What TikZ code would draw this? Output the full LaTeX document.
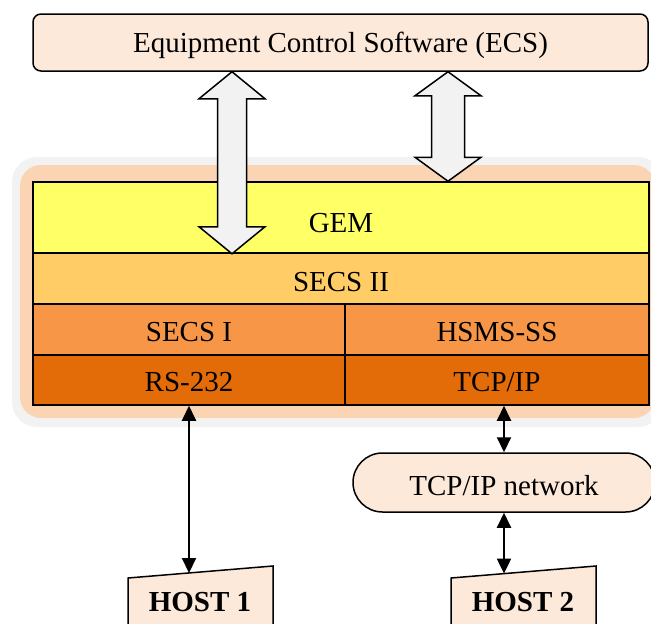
\documentclass[tikz,border=0pt]{standalone}
\usepackage{fontspec}
\setmainfont{Liberation Serif}
\usetikzlibrary{arrows.meta, calc, shapes.misc}
\definecolor{paperfill}{HTML}{FDE9D9}
\definecolor{stackfill}{HTML}{FBD4B4}
\definecolor{shadowgray}{HTML}{F2F2F2}
\definecolor{gemfill}{HTML}{FFFF66}
\definecolor{secsfill}{HTML}{FFCC66}
\definecolor{midfill}{HTML}{F79646}
\definecolor{lowfill}{HTML}{E36C09}
\newcommand{\linkArrow}{{Triangle[length=15pt, width=14pt]}}
\newcommand{\blockArrow}[5]{% top, bottom, head length, head half width, shaft half width
	\filldraw[fill=shadowgray, draw=black, line width=1.5pt] let \p1=(#1), \p2=(#2) in
		(\p1) -- (\x1+#4pt,\y1-#3pt) -- (\x1+#5pt,\y1-#3pt) -- (\x1+#5pt,\y2+#3pt) -- (\x1+#4pt,\y2+#3pt)
		-- (\p2) -- (\x1-#4pt,\y2+#3pt) -- (\x1-#5pt,\y2+#3pt) -- (\x1-#5pt,\y1-#3pt) -- (\x1-#4pt,\y1-#3pt) -- cycle;}

\begin{document}
\begin{tikzpicture}[x=1pt, y=-1pt, font=\fontsize{29}{34}\selectfont,
	layer/.style={draw=black, line width=1.5pt, inner sep=0pt, minimum height=51pt, text depth=0pt},
	paper/.style={fill=paperfill, draw=black, line width=1.5pt, text depth=0pt},
	hosttext/.style={font=\fontsize{29}{34}\selectfont\bfseries, text height=19pt, text depth=0pt}]
	\useasboundingbox (0,0) rectangle (651,624);
	\clip (0,0) rectangle (651,624);

	\node[paper, rounded corners=8pt, minimum width=615pt, minimum height=57pt, inner sep=0pt, text height=20.4pt] (ecs) at (340.5,42.5) {Equipment Control Software (ECS)};

	% protocol stack
	\fill[shadowgray, rounded corners=25pt] (12,157) rectangle (663,427);
	\fill[stackfill, rounded corners=21pt] (20,165) rectangle (655,418);
	\node[layer, fill=gemfill, minimum width=616pt, minimum height=71pt, text height=30pt] (gem) at (341,217.5) {GEM};
	\node[layer, fill=secsfill, minimum width=616pt, text height=25.4pt] (secs2) at (341,278.5) {SECS II};
	\node[layer, fill=midfill, minimum width=312pt, text height=23.4pt] (secs1) at (189,329.5) {SECS I};
	\node[layer, fill=midfill, minimum width=304pt, text height=23.4pt] (hsms) at (497,329.5) {HSMS-SS};
	\node[layer, fill=lowfill, minimum width=312pt, minimum height=50pt, text height=22pt] (rs) at (189,380) {RS-232};
	\node[layer, fill=lowfill, minimum width=304pt, minimum height=50pt, text height=22pt] (tcp) at (497,380) {TCP/IP};

	\coordinate (upA) at (232,0);
	\coordinate (upB) at (448,0);
	\blockArrow{ecs.south -| upA}{gem.south -| upA}{27}{33}{14.5}
	\blockArrow{ecs.south -| upB}{gem.north -| upB}{24}{33}{16.5}

	% hosts
	\node[paper, rounded rectangle, minimum width=302pt, minimum height=59pt, inner sep=0pt, text height=26.6pt] (net) at (504,482.5) {TCP/IP network};
	\filldraw[paper] (128,578) -- (273,566) -- (273,640) -- (128,640) -- cycle;
	\node[hosttext] (host1) at (200,602) {HOST 1};
	\coordinate (host1top) at (190,573);
	\filldraw[paper] (451,578) -- (596,566) -- (596,640) -- (451,640) -- cycle;
	\node[hosttext] (host2) at (523,602) {HOST 2};
	\coordinate (host2top) at (504,573.6);

	\draw[\linkArrow-\linkArrow, line width=2pt] (rs.south) -- (rs.south |- host1top);
	\draw[\linkArrow-\linkArrow, line width=2pt] (net.north |- tcp.south) -- (net.north);
	\draw[\linkArrow-\linkArrow, line width=2pt] (net.south) -- (net.south |- host2top);

\end{tikzpicture}
\end{document}
